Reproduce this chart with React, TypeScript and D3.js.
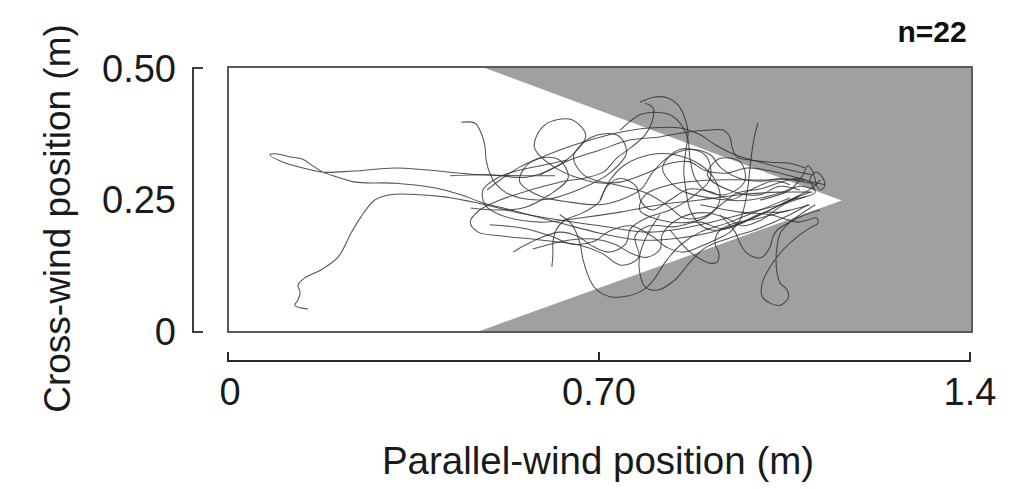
import React from "react";
import * as d3 from "d3";

// Axis domains and ticks (metres)
const xDomain: [number, number] = [0, 1.4];
const yDomain: [number, number] = [0, 0.5];
const xTicks = [0, 0.7, 1.4];
const xTickLabels = ["0", "0.70", "1.4"];
const yTicks = [0, 0.25, 0.5];
const yTickLabels = ["0", "0.25", "0.50"];
const sampleLabel = "n=22";

// Odour plume (white wedge) outline, metres
const plumeWedge: [number, number][] = [
  [0, 0.5], [0.485, 0.5], [1.158, 0.248], [0.475, 0], [0, 0],
];

// 22 flight tracks, [parallel-wind, cross-wind] in metres
const track01: [number, number][] = [[0.617,0.295],[0.477,0.297],[0.377,0.306],[0.315,0.310],[0.236,0.304],[0.179,0.302],[0.142,0.310],[0.104,0.321],[0.079,0.335],[0.089,0.337],[0.117,0.331],[0.140,0.327],[0.160,0.314],[0.179,0.302],[0.206,0.293],[0.240,0.283],[0.315,0.281],[0.391,0.272],[0.440,0.259],[0.477,0.245],[0.534,0.230],[0.628,0.205],[0.702,0.186],[0.777,0.173],[0.853,0.177],[0.928,0.192],[1.004,0.221],[1.060,0.249],[1.098,0.264]];
const track02: [number, number][] = [[0.151,0.042],[0.136,0.044],[0.126,0.049],[0.132,0.059],[0.136,0.074],[0.132,0.087],[0.145,0.101],[0.175,0.116],[0.208,0.141],[0.232,0.186],[0.251,0.217],[0.277,0.249],[0.306,0.259],[0.345,0.260],[0.409,0.255],[0.472,0.243],[0.551,0.224],[0.626,0.211],[0.702,0.200],[0.796,0.188],[0.891,0.202],[0.966,0.221],[1.042,0.240],[1.089,0.255]];
const track03: [number, number][] = [[0.440,0.397],[0.466,0.395],[0.477,0.378],[0.485,0.350],[0.487,0.325],[0.494,0.300],[0.504,0.281],[0.523,0.264],[0.551,0.253],[0.600,0.250],[0.660,0.268],[0.720,0.300],[0.752,0.340],[0.735,0.372],[0.685,0.368],[0.652,0.332],[0.672,0.296],[0.740,0.276],[0.790,0.262],[0.830,0.238],[0.860,0.215],[0.900,0.218],[0.930,0.240],[0.960,0.262],[1.004,0.270],[1.050,0.285],[1.080,0.290],[1.108,0.278]];
const track04: [number, number][] = [[0.419,0.295],[0.494,0.297],[0.560,0.292],[0.605,0.305],[0.650,0.335],[0.675,0.372],[0.648,0.402],[0.598,0.392],[0.578,0.350],[0.615,0.312],[0.690,0.283],[0.740,0.283],[0.790,0.300],[0.830,0.318],[0.870,0.322],[0.900,0.305],[0.940,0.300],[0.980,0.310],[1.020,0.305],[1.060,0.295],[1.089,0.287]];
const track05: [number, number][] = [[0.787,0.433],[0.802,0.424],[0.800,0.397],[0.787,0.373],[0.762,0.350],[0.734,0.329],[0.708,0.302],[0.674,0.291],[0.626,0.283],[0.570,0.268],[0.513,0.249],[0.475,0.230],[0.457,0.207],[0.472,0.188],[0.513,0.181],[0.589,0.173],[0.664,0.163],[0.705,0.148],[0.742,0.125],[0.775,0.140],[0.768,0.180],[0.795,0.200],[0.840,0.198],[0.891,0.207],[0.930,0.195],[0.966,0.205],[1.010,0.225],[1.042,0.226],[1.098,0.240]];
const track06: [number, number][] = [[0.777,0.435],[0.806,0.445],[0.830,0.443],[0.849,0.430],[0.862,0.405],[0.868,0.376],[0.864,0.344],[0.860,0.306],[0.864,0.268],[0.872,0.230],[0.891,0.202],[0.913,0.192],[0.947,0.196],[1.004,0.221],[1.060,0.249],[1.102,0.272],[1.117,0.287]];
const track07: [number, number][] = [[1.000,0.395],[0.994,0.373],[0.989,0.344],[0.985,0.312],[0.981,0.274],[0.975,0.240],[0.966,0.211],[0.947,0.188],[0.919,0.173],[0.890,0.160],[0.860,0.150],[0.830,0.158],[0.800,0.180],[0.760,0.200],[0.720,0.190],[0.690,0.170],[0.650,0.165],[0.610,0.180],[0.560,0.195],[0.494,0.202]];
const track08: [number, number][] = [[0.589,0.297],[0.645,0.325],[0.702,0.344],[0.758,0.363],[0.815,0.369],[0.853,0.376],[0.909,0.382],[0.934,0.382],[0.947,0.369],[0.951,0.350],[0.960,0.331],[0.985,0.325],[1.023,0.321],[1.060,0.319],[1.089,0.310]];
const track09: [number, number][] = [[0.640,0.325],[0.598,0.316],[0.551,0.306],[0.508,0.291],[0.481,0.268],[0.485,0.240],[0.513,0.221],[0.589,0.207],[0.664,0.215],[0.740,0.226],[0.815,0.240],[0.891,0.249],[0.966,0.259],[1.042,0.264],[1.102,0.264]];
const track10: [number, number][] = [[0.891,0.240],[0.966,0.226],[1.023,0.221],[1.074,0.207],[1.094,0.211],[1.111,0.215],[1.113,0.205],[1.098,0.196],[1.074,0.179],[1.047,0.154],[1.023,0.122],[1.008,0.091],[1.008,0.065],[1.023,0.053],[1.042,0.049],[1.057,0.063],[1.055,0.078],[1.042,0.091],[1.036,0.110],[1.034,0.135],[1.036,0.160],[1.042,0.186],[1.055,0.202],[1.079,0.221],[1.108,0.240]];
const track11: [number, number][] = [[0.626,0.221],[0.649,0.202],[0.664,0.167],[0.670,0.135],[0.683,0.097],[0.696,0.078],[0.721,0.065],[0.745,0.065],[0.772,0.072],[0.791,0.084],[0.806,0.101],[0.825,0.131],[0.853,0.163],[0.891,0.188],[0.947,0.207],[1.004,0.230],[1.060,0.253]];
const track12: [number, number][] = [[0.815,0.221],[0.791,0.183],[0.777,0.144],[0.777,0.110],[0.787,0.084],[0.811,0.078],[0.843,0.097],[0.872,0.131],[0.900,0.158],[0.947,0.177],[1.004,0.196],[1.060,0.221],[1.094,0.240]];
const track13: [number, number][] = [[0.834,0.192],[0.853,0.169],[0.872,0.150],[0.891,0.137],[0.909,0.129],[0.923,0.131],[0.926,0.148],[0.919,0.167],[0.925,0.188],[0.947,0.202],[1.004,0.215],[1.060,0.230]];
const track14: [number, number][] = [[0.928,0.221],[0.957,0.188],[0.966,0.167],[0.979,0.148],[0.998,0.139],[1.009,0.141],[1.023,0.160],[1.028,0.179],[1.036,0.192],[1.060,0.207],[1.089,0.221],[1.117,0.230]];
const track15: [number, number][] = [[0.611,0.122],[0.613,0.144],[0.613,0.167],[0.619,0.192],[0.636,0.211],[0.670,0.225],[0.700,0.245],[0.715,0.275],[0.740,0.290],[0.770,0.275],[0.780,0.245],[0.800,0.230],[0.834,0.249],[0.870,0.270],[0.909,0.265],[0.950,0.250],[0.985,0.268],[1.030,0.285],[1.060,0.278]];
const track16: [number, number][] = [[0.538,0.150],[0.560,0.163],[0.589,0.177],[0.626,0.188],[0.660,0.180],[0.690,0.160],[0.720,0.150],[0.750,0.165],[0.760,0.195],[0.790,0.215],[0.834,0.230],[0.872,0.252],[0.910,0.290],[0.900,0.335],[0.852,0.345],[0.820,0.310],[0.850,0.270],[0.930,0.250],[0.985,0.249],[1.040,0.262],[1.080,0.275],[1.108,0.268]];
const track17: [number, number][] = [[0.575,0.156],[0.608,0.165],[0.645,0.173],[0.690,0.175],[0.730,0.165],[0.760,0.148],[0.790,0.140],[0.815,0.155],[0.820,0.185],[0.853,0.215],[0.900,0.225],[0.940,0.215],[0.970,0.200],[1.004,0.210],[1.040,0.235],[1.079,0.257]];
const track18: [number, number][] = [[0.458,0.234],[0.513,0.230],[0.560,0.235],[0.605,0.258],[0.642,0.292],[0.622,0.327],[0.572,0.322],[0.550,0.285],[0.590,0.256],[0.645,0.245],[0.700,0.240],[0.740,0.249],[0.780,0.270],[0.800,0.300],[0.830,0.330],[0.870,0.345],[0.910,0.335],[0.930,0.310],[0.966,0.290],[1.010,0.285],[1.042,0.290],[1.098,0.281]];
const track19: [number, number][] = [[0.489,0.268],[0.513,0.287],[0.551,0.312],[0.589,0.329],[0.626,0.344],[0.683,0.363],[0.740,0.378],[0.796,0.386],[0.853,0.386],[0.891,0.373],[0.919,0.354],[0.957,0.335],[1.004,0.321],[1.060,0.306],[1.102,0.297]];
const track20: [number, number][] = [[0.740,0.382],[0.777,0.411],[0.806,0.416],[0.834,0.411],[0.858,0.388],[0.868,0.363],[0.872,0.325],[0.881,0.291],[0.900,0.268],[0.938,0.259],[0.975,0.285],[0.966,0.322],[0.925,0.327],[0.905,0.296],[0.950,0.266],[1.004,0.259],[1.040,0.275],[1.079,0.268]];
const track21: [number, number][] = [[0.702,0.249],[0.721,0.287],[0.749,0.316],[0.796,0.335],[0.843,0.335],[0.891,0.316],[0.919,0.287],[0.928,0.249],[0.909,0.221],[0.872,0.207],[0.815,0.211],[0.777,0.230],[0.787,0.259],[0.834,0.278],[0.909,0.287],[1.004,0.287],[1.079,0.287],[1.126,0.278]];
const track22: [number, number][] = [[1.004,0.249],[1.060,0.268],[1.085,0.297],[1.094,0.314],[1.104,0.302],[1.111,0.276],[1.117,0.268],[1.126,0.276],[1.121,0.293],[1.108,0.302],[1.098,0.287],[1.108,0.264],[1.089,0.255],[1.060,0.249]];

const tracks = [track01, track02, track03, track04, track05, track06, track07, track08, track09, track10, track11, track12, track13, track14, track15, track16, track17, track18, track19, track20, track21, track22];

const W = 1024;
const H = 489;
const FONT = "'Liberation Sans', Arial, Helvetica, sans-serif";

export default function App() {
  const x = d3.scaleLinear().domain(xDomain).range([228, 970]);
  const y = d3.scaleLinear().domain(yDomain).range([331, 68]);

  const wedgeLine = d3.line<[number, number]>().x((d) => x(d[0])).y((d) => y(d[1]));
  const trackLine = d3
    .line<[number, number]>()
    .x((d) => x(d[0]))
    .y((d) => y(d[1]))
    .curve(d3.curveCatmullRom.alpha(0.5));

  const x0 = x(xDomain[0]);
  const x1 = x(xDomain[1]) + 2;
  const yTop = y(yDomain[1]) - 1;
  const yBot = y(yDomain[0]) + 1;

  const yAxisX = 193;
  const xAxisY = 361;

  return (
    <svg
      width={W}
      height={H}
      viewBox={`0 0 ${W} ${H}`}
      style={{ position: "absolute", left: 0, top: 0, background: "#fff" }}
    >
      <defs>
        <clipPath id="plotClip">
          <rect x={x0} y={yTop} width={x1 - x0} height={yBot - yTop} />
        </clipPath>
      </defs>
      <rect x={x0} y={yTop} width={x1 - x0} height={yBot - yTop} fill="#a0a0a0" />
      <path d={wedgeLine(plumeWedge) + "Z"} fill="#ffffff" />
      <g clipPath="url(#plotClip)">
        {tracks.map((t, i) => (
          <path
            key={i}
            d={trackLine(t) || ""}
            fill="none"
            stroke="#2e2e2e"
            strokeWidth={1.05}
            strokeOpacity={0.82}
            strokeLinejoin="round"
          />
        ))}
      </g>
      <rect
        x={x0}
        y={yTop}
        width={x1 - x0}
        height={yBot - yTop}
        fill="none"
        stroke="#5a5a5a"
        strokeWidth={2}
      />

      <path
        d={`M${yAxisX + 10},${y(yDomain[1])}H${yAxisX}V${y(yDomain[0]) + 1}H${yAxisX + 10}`}
        fill="none"
        stroke="#3c3c3c"
        strokeWidth={2}
      />
      {yTicks.map((v, i) => (
        <text
          key={i}
          x={176}
          y={y(v)}
          dy="0.36em"
          textAnchor="end"
          fontFamily={FONT}
          fontSize={38}
          fill="#1a1a1a"
        >
          {yTickLabels[i]}
        </text>
      ))}
      <text
        transform={`translate(57,${(y(0) + y(0.5)) / 2 + 19}) rotate(-90)`}
        textAnchor="middle"
        dy="0.36em"
        fontFamily={FONT}
        fontSize={37}
        fill="#1a1a1a"
      >
        Cross-wind position (m)
      </text>

      <line x1={x(0) - 1} x2={x(1.4) + 1} y1={xAxisY} y2={xAxisY} stroke="#2a2a2a" strokeWidth={2} />
      {xTicks.map((v, i) => (
        <g key={i}>
          <line x1={x(v)} x2={x(v)} y1={xAxisY} y2={xAxisY - 9} stroke="#2a2a2a" strokeWidth={2} />
          <text
            x={x(v) + (i === 0 ? 2 : 0)}
            y={391}
            dy="0.36em"
            textAnchor="middle"
            fontFamily={FONT}
            fontSize={38}
            fill="#1a1a1a"
          >
            {xTickLabels[i]}
          </text>
        </g>
      ))}
      <text
        x={598}
        y={460}
        dy="0.36em"
        textAnchor="middle"
        fontFamily={FONT}
        fontSize={38.5}
        fill="#1a1a1a"
      >
        Parallel-wind position (m)
      </text>

      <text
        x={932}
        y={42}
        textAnchor="middle"
        fontFamily={FONT}
        fontSize={30}
        fontWeight="bold"
        fill="#111"
      >
        {sampleLabel}
      </text>
    </svg>
  );
}
